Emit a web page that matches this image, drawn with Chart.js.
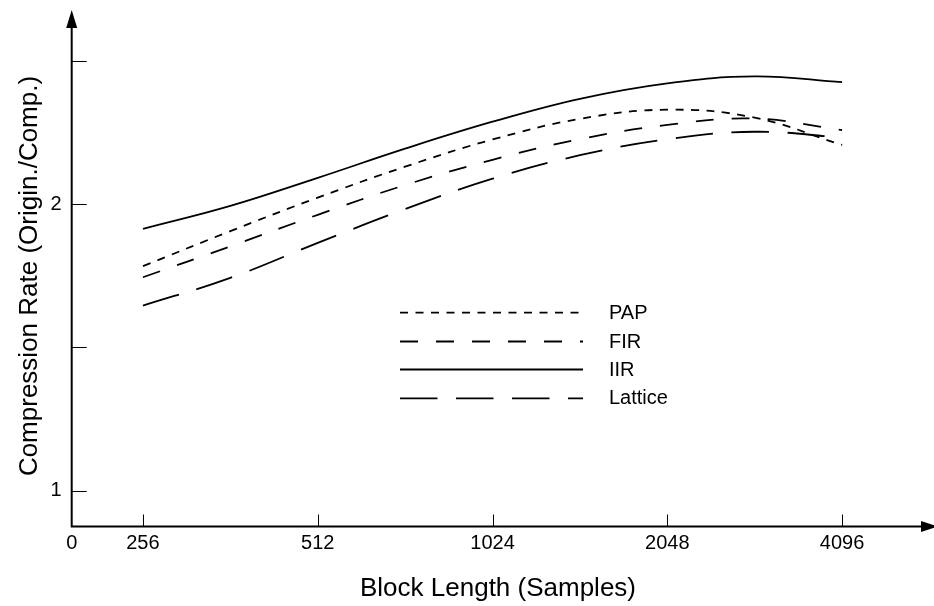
<!DOCTYPE html>
<html>
<head>
<meta charset="utf-8">
<title>Compression Rate vs Block Length</title>
<script src="https://cdn.jsdelivr.net/npm/chart.js@4.4.1/dist/chart.umd.min.js"></script>
<style>
  html, body { margin: 0; padding: 0; background: #fff; }
  #wrap { width: 934px; height: 606px; }
</style>
</head>
<body>
<div id="wrap"><canvas id="c" width="934" height="606"></canvas></div>
<script>
// Block lengths (samples) at half-octave steps
const blockLengths = [256, 362, 512, 724, 1024, 1448, 2048, 2896, 4096];

// Compression rate (original / compressed) per predictor
const papRate     = [1.784, 1.906, 2.023, 2.131, 2.226, 2.298, 2.330, 2.302, 2.207];
const firRate     = [1.745, 1.853, 1.963, 2.067, 2.155, 2.227, 2.277, 2.299, 2.259];
const iirRate     = [1.914, 1.994, 2.092, 2.194, 2.288, 2.368, 2.422, 2.446, 2.426];
const latticeRate = [1.646, 1.743, 1.865, 1.983, 2.089, 2.171, 2.227, 2.253, 2.233];

const seriesNames = ['PAP', 'FIR', 'IIR', 'Lattice'];

// Axis ticks
const xTickValues = [256, 512, 1024, 2048, 4096];
const yTickValues = [1, 1.5, 2, 2.5];
const yTickLabels = { 1: '1', 2: '2' };

// Axis extents (origin of the drawn axes and arrow ends)
const xMin = 193, xMax = 5850;
const yMin = 0.875, yMax = 2.678;

const FONT = "'Liberation Sans', Arial, Helvetica, sans-serif";
Chart.defaults.font.family = FONT;
Chart.defaults.color = '#000';

const toPoints = arr => arr.map((v, i) => ({ x: blockLengths[i], y: v }));

const lineStyle = {
  borderColor: '#000',
  borderWidth: 1.8,
  pointRadius: 0,
  fill: false,
  tension: 0.4
};

const datasets = [
  { label: seriesNames[0], data: toPoints(papRate),     borderDash: [8, 7.5],     ...lineStyle },
  { label: seriesNames[1], data: toPoints(firRate),     borderDash: [18, 18],     ...lineStyle },
  { label: seriesNames[2], data: toPoints(iirRate),     borderDash: [],           ...lineStyle },
  { label: seriesNames[3], data: toPoints(latticeRate), borderDash: [37.5, 18.5], ...lineStyle }
];

// Axes with arrowheads, inward tick marks, axis titles and the in-plot legend
const decorations = {
  id: 'decorations',
  afterDraw(chart) {
    const ctx = chart.ctx;
    const area = chart.chartArea;
    const xs = chart.scales.x, ys = chart.scales.y;
    const ox = area.left, oy = area.bottom;
    ctx.save();
    ctx.strokeStyle = '#000';
    ctx.fillStyle = '#000';

    // tick marks
    ctx.lineWidth = 1;
    ctx.beginPath();
    xTickValues.forEach(v => {
      const px = Math.round(xs.getPixelForValue(v)) + 0.5;
      ctx.moveTo(px, oy);
      ctx.lineTo(px, oy - 12);
    });
    yTickValues.forEach(v => {
      const py = Math.round(ys.getPixelForValue(v)) + 0.5;
      ctx.moveTo(ox, py);
      ctx.lineTo(ox + 15, py);
    });
    ctx.stroke();

    // axis lines
    ctx.lineWidth = 2;
    ctx.beginPath();
    ctx.moveTo(ox, oy + 1);
    ctx.lineTo(ox, area.top + 12);
    ctx.moveTo(ox - 1, oy);
    ctx.lineTo(area.right - 6, oy);
    ctx.stroke();

    // arrowheads
    ctx.beginPath();
    ctx.moveTo(ox, area.top);
    ctx.lineTo(ox - 5.5, area.top + 18);
    ctx.lineTo(ox + 5.5, area.top + 18);
    ctx.closePath();
    ctx.fill();
    ctx.beginPath();
    ctx.moveTo(area.right + 6, oy);
    ctx.lineTo(area.right - 11, oy - 5.5);
    ctx.lineTo(area.right - 11, oy + 5.5);
    ctx.closePath();
    ctx.fill();

    // axis titles
    ctx.font = '26px ' + FONT;
    ctx.textAlign = 'center';
    ctx.textBaseline = 'alphabetic';
    ctx.fillText('Block Length (Samples)', 498, 596);
    ctx.save();
    ctx.translate(37, 276);
    ctx.rotate(-Math.PI / 2);
    ctx.fillText('Compression Rate (Origin./Comp.)', 0, 0);
    ctx.restore();

    // legend
    const lx0 = 400, lx1 = 583, tx = 609;
    const rowY = [312.7, 341.5, 369.5, 398.3];
    ctx.font = '20px ' + FONT;
    ctx.textAlign = 'left';
    ctx.textBaseline = 'middle';
    chart.data.datasets.forEach((ds, i) => {
      const y = rowY[i];
      ctx.lineWidth = ds.borderWidth;
      ctx.setLineDash(ds.borderDash || []);
      ctx.beginPath();
      ctx.moveTo(lx0, y);
      ctx.lineTo(lx1, y);
      ctx.stroke();
      ctx.setLineDash([]);
      ctx.fillText(ds.label, tx, y + 0.5);
    });
    ctx.restore();
  }
};

new Chart(document.getElementById('c'), {
  type: 'line',
  data: { datasets },
  plugins: [decorations],
  options: {
    responsive: false,
    animation: false,
    events: [],
    layout: { padding: { top: 10, right: 2, left: 0, bottom: 0 } },
    plugins: { legend: { display: false }, tooltip: { enabled: false } },
    scales: {
      x: {
        type: 'logarithmic',
        min: xMin,
        max: xMax,
        grid: { display: false, drawTicks: false },
        border: { display: false },
        afterBuildTicks: axis => {
          axis.ticks = [xMin, ...xTickValues].map(v => ({ value: v }));
        },
        afterFit: axis => {
          axis.height = 79.5;
          axis.paddingLeft = 0;
          axis.paddingRight = 0;
        },
        ticks: {
          autoSkip: false,
          maxRotation: 0,
          padding: 5,
          font: { size: 20 },
          color: '#000',
          callback: v => (v === xMin ? '0' : String(v))
        }
      },
      y: {
        type: 'linear',
        min: yMin,
        max: yMax,
        grid: { display: false, drawTicks: false },
        border: { display: false },
        afterBuildTicks: axis => {
          axis.ticks = yTickValues.map(v => ({ value: v }));
        },
        afterFit: axis => {
          axis.width = 71.7;
          axis.paddingTop = 0;
          axis.paddingBottom = 0;
        },
        ticks: {
          autoSkip: false,
          padding: 10,
          font: { size: 20 },
          color: '#000',
          callback: v => (yTickLabels[v] || '')
        }
      }
    }
  }
});
</script>
</body>
</html>
